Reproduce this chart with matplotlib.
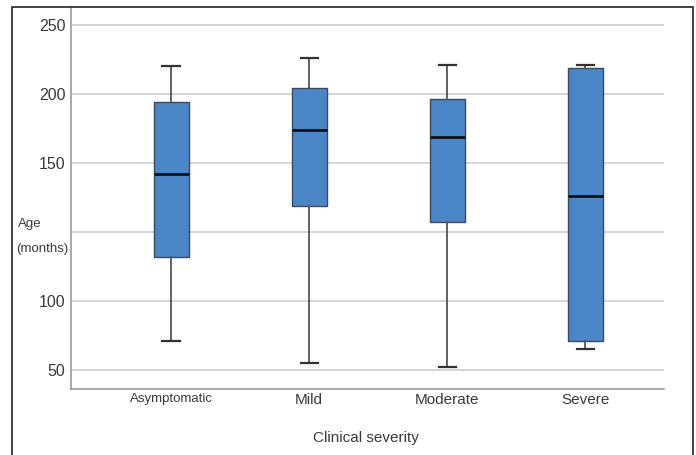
import matplotlib
matplotlib.use("Agg")
import matplotlib.pyplot as plt
from matplotlib.patches import Rectangle

categories = ['Asymptomatic', 'Mild', 'Moderate', 'Severe']
whislo = [21, 5, 2, 15]
q1 = [82, 119, 107, 21]
med = [142, 174, 169, 126]
q3 = [194, 204, 196, 219]
whishi = [220, 226, 221, 221]

ytick_values = [0, 50, 100, 150, 200, 250]
ytick_labels = ['50', '100', '', '150', '200', '250']

plt.rcParams['font.family'] = ['Liberation Sans', 'DejaVu Sans']

fig = plt.figure(figsize=(6.96, 4.55), dpi=100)
ax = fig.add_axes([71/696, 1 - 389/455, (664-71)/696, (389-8)/455])

stats = []
for i, c in enumerate(categories):
    stats.append(dict(label=c, whislo=whislo[i], q1=q1[i], med=med[i],
                      q3=q3[i], whishi=whishi[i], fliers=[]))

ax.bxp(stats, positions=[1, 2, 3, 4], widths=0.254, patch_artist=True,
       showfliers=False, capwidths=0.125,
       boxprops=dict(facecolor='#4a86c8', edgecolor='#3c4a5a', linewidth=1.0),
       medianprops=dict(color='#111111', linewidth=2.0),
       whiskerprops=dict(color='#555555', linewidth=1.3),
       capprops=dict(color='#333333', linewidth=1.6))

ax.set_xlim(0.275, 4.57)
ax.set_ylim(-13.8, 262.3)
ax.set_yticks(ytick_values)
ax.set_yticklabels(ytick_labels, fontsize=11.5, color='#3a3a3a')
ax.yaxis.grid(True, color='#d4d4d4', linewidth=1.4)
ax.set_axisbelow(True)
ax.tick_params(axis='y', length=0, pad=4)
ax.tick_params(axis='x', length=0, pad=3)
ax.set_xticks([1, 2, 3, 4])
ax.set_xticklabels(categories, color='#3a3a3a')
labs = ax.get_xticklabels()
labs[0].set_fontsize(9.5)
for l in labs[1:]:
    l.set_fontsize(11)
for s in ['top', 'right']:
    ax.spines[s].set_visible(False)
for s in ['left', 'bottom']:
    ax.spines[s].set_color('#999999')
    ax.spines[s].set_linewidth(1.2)

fig.text(18/696, 1 - 224/455, 'Age', fontsize=9.5, color='#3a3a3a', va='center', ha='left')
fig.text(16/696, 1 - 249/455, '(months)', fontsize=9.5, color='#3a3a3a', va='center', ha='left')
fig.text(366/696, 1 - 438/455, 'Clinical severity', fontsize=11, color='#3a3a3a',
         va='center', ha='center')

border = Rectangle((12/696, -0.05), (693-12)/696, (455-7)/455 + 0.05,
                   transform=fig.transFigure, fill=False, edgecolor='#222222',
                   linewidth=1.2, clip_on=False)
fig.patches.append(border)

fig.savefig('out.png', dpi=100)
